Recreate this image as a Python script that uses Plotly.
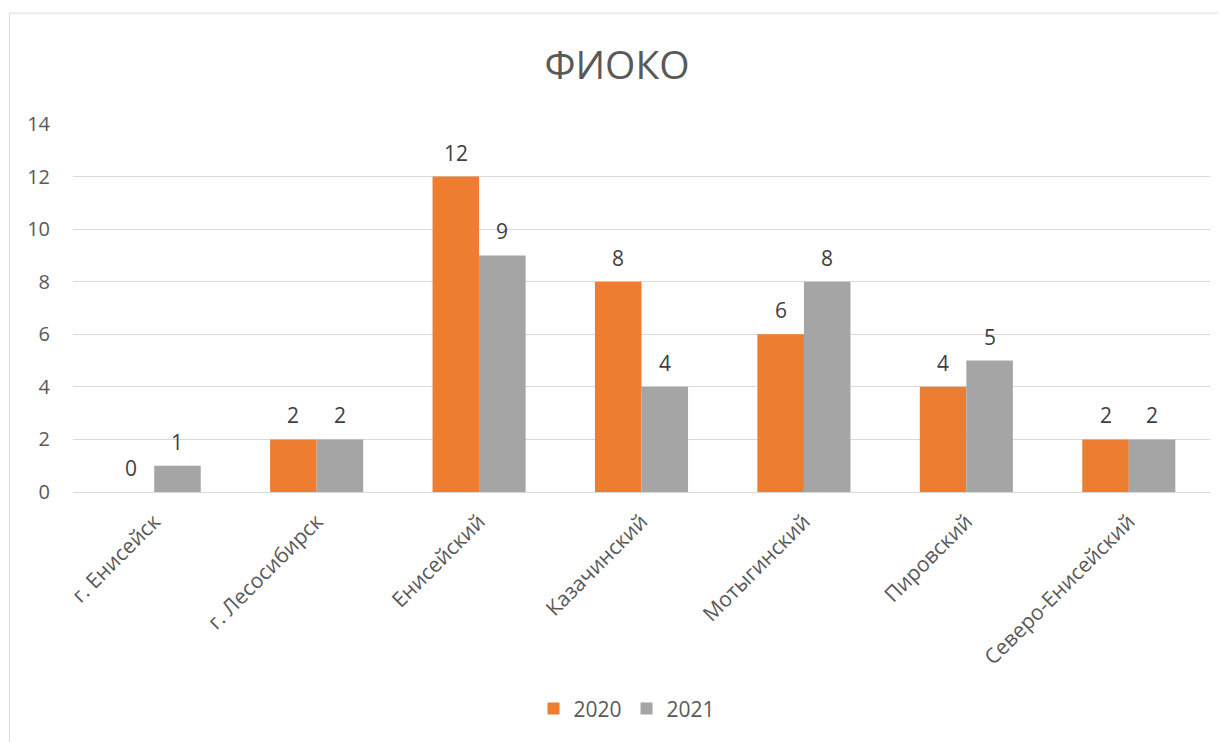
import plotly.graph_objects as go

categories = ['г. Енисейск', 'г. Лесосибирск', 'Енисейский', 'Казачинский',
              'Мотыгинский', 'Пировский', 'Северо-Енисейский']
values_2020 = [0, 2, 12, 8, 6, 4, 2]
values_2021 = [1, 2, 9, 4, 8, 5, 2]
series_names = ['2020', '2021']

orange = '#ED7D31'
grey = '#A5A5A5'
text_col = '#595959'
grid_col = '#D9D9D9'
font_family = 'Open Sans, sans-serif'

# the page body adds an 8px margin, so the figure is 8px smaller
W, H = 1218, 734
L, T = 65, 116
PW, PH = 1137, 370

fig = go.Figure()
fig.add_trace(go.Bar(x=categories, y=values_2020, name=series_names[0],
                     marker=dict(color=orange, line=dict(width=0))))
fig.add_trace(go.Bar(x=categories, y=values_2021, name=series_names[1],
                     marker=dict(color=grey, line=dict(width=0))))

# data labels above each bar, shifted half a bar left/right
bar_px = 46.5
for vals, shift in [(values_2020, -bar_px / 2), (values_2021, bar_px / 2)]:
    for cat, v in zip(categories, vals):
        fig.add_annotation(x=cat, y=v, text=str(v), showarrow=False,
                           xshift=shift, yshift=24, yanchor='middle',
                           font=dict(size=21, color='#404040', family=font_family))

# outer chart border (Excel style)
fig.add_shape(type='rect', xref='paper', yref='paper',
              x0=(1.5 - L) / PW, x1=1.2, y0=-1.0, y1=(PH + T - 4.5) / PH,
              line=dict(color=grid_col, width=1), fillcolor='rgba(0,0,0,0)',
              layer='below')

fig.update_layout(
    width=W, height=H,
    paper_bgcolor='white', plot_bgcolor='white',
    margin=dict(l=L, r=W - L - PW, t=T, b=H - T - PH),
    barmode='group', bargap=0.427, bargroupgap=0,
    font=dict(family=font_family, color=text_col, size=20),
    title=dict(text='ФИОКО', x=0.5, xanchor='center', y=1 - 57 / H,
               yanchor='middle', font=dict(size=39, color=text_col)),
    legend=dict(orientation='h', x=(619 - L) / PW, xanchor='center',
                y=-218 / PH, yanchor='middle',
                font=dict(size=21, color=text_col),
                itemwidth=30, traceorder='normal'),
    xaxis=dict(tickangle=-45, automargin=False, showline=True,
               linecolor=grid_col, linewidth=1, showgrid=False,
               ticks='', ticklabelstandoff=8,
               tickfont=dict(size=21, color=text_col)),
    yaxis=dict(range=[0, 14], dtick=2, automargin=False, showgrid=True,
               gridcolor=grid_col, gridwidth=1, zeroline=False,
               showline=False, ticks='', ticklabelstandoff=22,
               tickfont=dict(size=20, color=text_col)),
)

fig.write_html("out.html")
